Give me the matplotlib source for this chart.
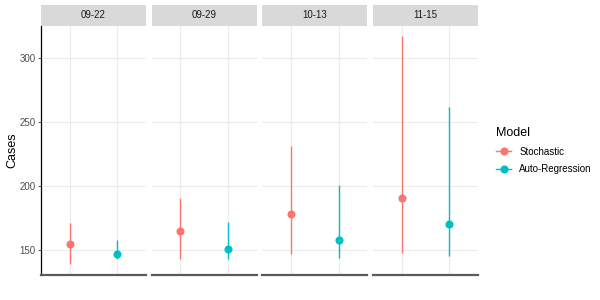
import matplotlib
matplotlib.use("Agg")
import matplotlib.pyplot as plt
from matplotlib.lines import Line2D
from matplotlib.patches import Rectangle

plt.rcParams['font.family'] = ['Liberation Sans', 'DejaVu Sans']

dates = ["09-22", "09-29", "10-13", "11-15"]
models = ["Stochastic", "Auto-Regression"]
colors = ["#F8766D", "#00BFC4"]

stoch_mid = [155, 165, 178, 191]
stoch_lo = [139, 143, 147, 148]
stoch_hi = [171, 191, 231, 317]
ar_mid = [147, 151, 158, 170]
ar_lo = [143, 143, 144, 145]
ar_hi = [158, 172, 201, 262]

yticks = [150, 200, 250, 300]

W, H = 600, 300
fig = plt.figure(figsize=(6, 3), dpi=100)

ax_top, ax_bot = 26, 275
strip_top = 5
panel_w = 105
lefts = [41 + i * 110.67 for i in range(4)]

mids = [stoch_mid, ar_mid]
los = [stoch_lo, ar_lo]
his = [stoch_hi, ar_hi]

for i, d in enumerate(dates):
    l = lefts[i]
    ax = fig.add_axes([l / W, 1 - ax_bot / H, panel_w / W, (ax_bot - ax_top) / H])
    ax.set_xlim(0.4, 2.6)
    ax.set_ylim(130.5, 325)
    ax.set_xticks([1, 2])
    ax.set_yticks(yticks)
    ax.grid(True, color="#EBEBEB", linewidth=0.8)
    ax.set_axisbelow(True)
    for s in ["top", "right", "left"]:
        ax.spines[s].set_visible(False)
    ax.spines["bottom"].set_color("#5a5a5a")
    ax.spines["bottom"].set_linewidth(1.6)
    ax.tick_params(axis="x", length=0, labelbottom=False)
    if i == 0:
        ax.spines["left"].set_visible(True)
        ax.spines["left"].set_color("black")
        ax.spines["left"].set_linewidth(0.9)
        ax.tick_params(axis="y", length=2.5, width=0.6, color="#333333",
                       labelsize=7, labelcolor="#4D4D4D", pad=1.5)
    else:
        ax.tick_params(axis="y", length=0, labelleft=False)
    for k in range(2):
        xk = k + 1
        ax.vlines(xk, los[k][i], his[k][i], color=colors[k], linewidth=1.0, zorder=3)
        ax.plot(xk, mids[k][i], 'o', color=colors[k], markersize=4.8, zorder=4)
    # strip
    fig.patches.append(Rectangle((l / W, 1 - ax_top / H), panel_w / W, (ax_top - strip_top) / H,
                                 transform=fig.transFigure, facecolor="#D9D9D9",
                                 edgecolor="none"))
    fig.text((l + panel_w / 2) / W, 1 - ((ax_top + strip_top) / 2) / H, d,
             ha="center", va="center", fontsize=7, color="#1A1A1A")

fig.text(12 / W, 1 - 150 / H, "Cases", rotation=90, ha="center", va="center",
         fontsize=9, color="black")

handles = [Line2D([0], [0], color=c, marker='o', markersize=4.8, linewidth=1.0) for c in colors]
leg = fig.legend(handles, models, title="Model", loc="upper left",
                 bbox_to_anchor=(487 / W, 1 - 118 / H), frameon=False,
                 fontsize=7, title_fontsize=9, handlelength=1.6, handletextpad=0.8,
                 labelspacing=0.8)
leg._legend_box.align = "left"

fig.savefig("out.png", dpi=100)
